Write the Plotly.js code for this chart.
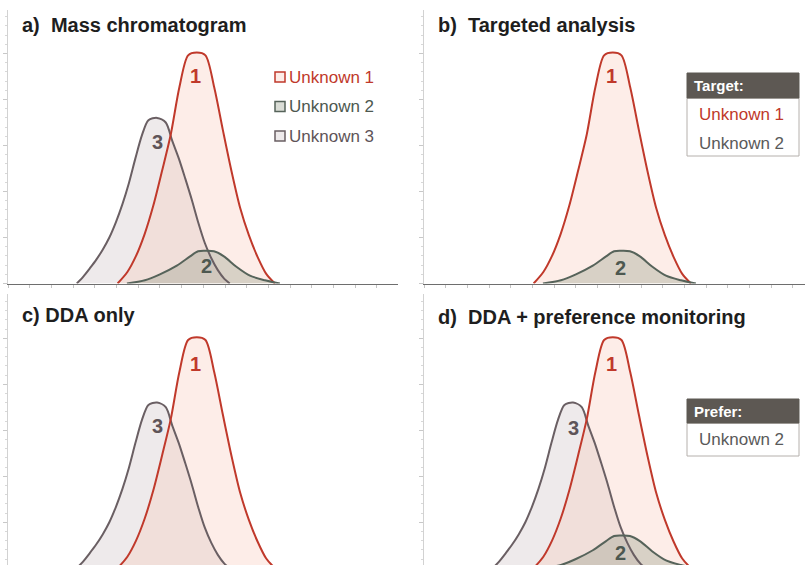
<!DOCTYPE html>
<html>
<head>
<meta charset="utf-8">
<script src="https://cdn.plot.ly/plotly-3.0.1.min.js"></script>
<style>html,body{margin:0;padding:0;background:#fff;}#chart{width:805px;height:565px;}</style>
</head>
<body>
<div id="chart"></div>
<script>
// ---- data (retention time in tick units, intensity in major y-tick units) ----
const seriesNames = ["Unknown 1", "Unknown 2", "Unknown 3"];
const peakLabels = ["1", "2", "3"];
const peak1X = [5.05, 5.5, 5.9, 6.3, 6.7, 7.1, 7.5, 7.9, 8.3, 8.7, 9.1, 9.5, 9.9, 10.3, 10.7, 11.1, 11.5, 11.9, 12.3];
const peak1Y = [0, 0.25, 0.60, 1.08, 1.70, 2.45, 3.24, 4.27, 4.96, 5.02, 4.96, 4.27, 3.34, 2.44, 1.64, 1.05, 0.58, 0.21, 0];
const peak2X = [5.48, 6.31, 7.00, 7.78, 8.39, 8.76, 9.12, 9.49, 9.95, 10.51, 11.15, 11.84, 12.53];
const peak2Y = [0, 0.07, 0.20, 0.39, 0.59, 0.70, 0.71, 0.70, 0.59, 0.37, 0.17, 0.07, 0];
const peak3X = [3.17, 3.47, 3.77, 4.07, 4.37, 4.67, 4.97, 5.27, 5.57, 5.87, 6.17, 6.47, 6.87, 7.27, 7.57, 7.87, 8.17, 8.47, 8.77, 9.07, 9.37, 9.67, 9.97, 10.22];
const peak3Y = [0, 0.15, 0.33, 0.52, 0.74, 1.00, 1.33, 1.72, 2.18, 2.72, 3.22, 3.55, 3.60, 3.50, 3.10, 2.72, 2.28, 1.82, 1.32, 0.88, 0.55, 0.29, 0.10, 0];
const panelTitles = ["a)\u00a0 Mass chromatogram", "b)\u00a0 Targeted analysis", "c) DDA only", "d)\u00a0 DDA + preference monitoring"];
const panelPeaks = [[3, 1, 2], [1, 2], [3, 1], [3, 1, 2]];
const boxHeaders = ["Target:", "Prefer:"];
const boxItemsB = ["Unknown 1", "Unknown 2"];
const boxItemsD = ["Unknown 2"];

// ---- styles ----
const W = 805, H = 565;
const px = v => v / W;
const py = v => 1 - v / H;
const lineCol = {1: "#c0392b", 2: "#56635a", 3: "#6a5f63"};
const fillCol = {1: "rgba(250,200,185,0.32)", 2: "rgba(140,150,128,0.32)", 3: "rgba(200,184,190,0.30)"};
const labelCol = {1: "#c0392b", 2: "#4d5850", 3: "#5e5458"};
const peaks = {1: [peak1X, peak1Y], 2: [peak2X, peak2Y], 3: [peak3X, peak3Y]};
const FONT = "Liberation Sans, Arial, Helvetica, sans-serif";

const traces = [];
panelPeaks.forEach((list, i) => {
  const sfx = i === 0 ? "" : String(i + 1);
  // fills first
  list.forEach(p => {
    traces.push({
      x: peaks[p][0], y: peaks[p][1], type: "scatter", mode: "lines",
      line: {color: "rgba(0,0,0,0)", width: 0, shape: "spline", smoothing: 0.8},
      fill: "tozeroy", fillcolor: fillCol[p],
      xaxis: "x" + sfx, yaxis: "y" + sfx, showlegend: false, hoverinfo: "skip"
    });
  });
  // outlines on top
  list.forEach(p => {
    traces.push({
      x: peaks[p][0], y: peaks[p][1], type: "scatter", mode: "lines",
      line: {color: lineCol[p], width: 2, shape: "spline", smoothing: 0.8},
      xaxis: "x" + sfx, yaxis: "y" + sfx, showlegend: false, hoverinfo: "skip"
    });
  });
});

const topDom = [(H - 283.5) / H, (H - 10) / H];
const botDom = [0, (H - 294) / H];
const botBase = 568.2;
function xAx(dom, rng, showLine, anchor) {
  return {domain: dom, range: rng, anchor: anchor, showline: showLine, linecolor: "#6e6e6e", linewidth: 1.5,
    ticks: showLine ? "outside" : "", ticklen: 3, tickcolor: "#c4c4c4", tick0: 0, dtick: 1,
    showticklabels: false, showgrid: false, zeroline: false, fixedrange: true};
}
function yAx(dom, rng, anchor) {
  return {domain: dom, range: rng, anchor: anchor, showline: true, linecolor: "#d2d2d2", linewidth: 1,
    ticks: "outside", ticklen: 4, tickcolor: "#c8c8c8", tick0: 0, dtick: 1,
    minor: {dtick: 0.2, ticklen: 2, tickcolor: "#d8d8d8", ticks: "outside"},
    showticklabels: false, showgrid: false, zeroline: false, fixedrange: true};
}
const xDomL = [px(8), px(398)], xDomR = [px(424), 1];
const rngL = [0, (398 - 8) / 21.7], rngR = [0, (805 - 424) / 21.7];
const topR = [0, (283.5 - 10) / 46];
const botR = [(botBase - H) / 46, (botBase - 294) / 46];

const annotations = [];
const shapes = [];
// panel titles
const titlePos = [[20, 25], [436, 25], [20, 315], [436, 317]];
panelTitles.forEach((t, i) => {
  annotations.push({text: t, xref: "paper", yref: "paper", x: px(titlePos[i][0]), y: py(titlePos[i][1]),
    xanchor: "left", yanchor: "middle", showarrow: false,
    font: {family: FONT, size: 20, color: "#1e1e1e", weight: "bold"}});
});
// peak number labels
const labelPos = [
  {1: [8.62, 4.52], 2: [9.17, 0.37], 3: [6.87, 3.07]},
  {1: [8.66, 4.52], 2: [9.05, 0.33]},
  {1: [8.62, 4.45], 3: [6.87, 3.10]},
  {1: [8.66, 4.45], 2: [9.05, 0.33], 3: [6.87, 3.05]}
];
labelPos.forEach((obj, i) => {
  const sfx = i === 0 ? "" : String(i + 1);
  Object.keys(obj).forEach(k => {
    annotations.push({text: peakLabels[k - 1], xref: "x" + sfx, yref: "y" + sfx, x: obj[k][0], y: obj[k][1],
      showarrow: false, xanchor: "center", yanchor: "middle",
      font: {family: FONT, size: 20, color: labelCol[k], weight: "bold"}});
  });
});
// legend of panel a
[1, 2, 3].forEach((k, j) => {
  const yc = 77 + j * 29.5;
  shapes.push({type: "rect", xref: "paper", yref: "paper", x0: px(275), x1: px(285), y0: py(yc - 5), y1: py(yc + 5),
    line: {color: lineCol[k], width: 1.5}, fillcolor: fillCol[k]});
  annotations.push({text: seriesNames[k - 1], xref: "paper", yref: "paper", x: px(287), y: py(yc),
    xanchor: "left", yanchor: "middle", showarrow: false,
    font: {family: FONT, size: 17, color: labelCol[k]}});
});
// boxes
function box(top, headH, bodyB, header, items, colors) {
  shapes.push({type: "rect", xref: "paper", yref: "paper", x0: px(687), x1: px(799), y0: py(top + headH), y1: py(bodyB),
    line: {color: "#b5b0ac", width: 1}, fillcolor: "#ffffff"});
  shapes.push({type: "rect", xref: "paper", yref: "paper", x0: px(687), x1: px(799), y0: py(top), y1: py(top + headH),
    line: {color: "#5d5853", width: 1}, fillcolor: "#5d5853"});
  annotations.push({text: header, xref: "paper", yref: "paper", x: px(692), y: py(top + headH / 2),
    xanchor: "left", yanchor: "middle", showarrow: false,
    font: {family: FONT, size: 15, color: "#ffffff", weight: "bold"}});
  items.forEach((t, j) => {
    annotations.push({text: t, xref: "paper", yref: "paper", x: px(697), y: py(top + headH + 16 + j * 29),
      xanchor: "left", yanchor: "middle", showarrow: false,
      font: {family: FONT, size: 17, color: colors[j]}});
  });
}
box(73, 25, 156, boxHeaders[0], boxItemsB, [lineCol[1], "#5a5a5a"]);
box(399, 24, 456, boxHeaders[1], boxItemsD, ["#5a5a5a"]);

const layout = {
  width: W, height: H, margin: {l: 0, r: 0, t: 0, b: 0},
  paper_bgcolor: "#ffffff", plot_bgcolor: "rgba(0,0,0,0)", showlegend: false,
  xaxis: xAx(xDomL, rngL, true, "y"), yaxis: yAx(topDom, topR, "x"),
  xaxis2: xAx(xDomR, rngR, true, "y2"), yaxis2: yAx(topDom, topR, "x2"),
  xaxis3: xAx(xDomL, rngL, false, "y3"), yaxis3: yAx(botDom, botR, "x3"),
  xaxis4: xAx(xDomR, rngR, false, "y4"), yaxis4: yAx(botDom, botR, "x4"),
  annotations: annotations, shapes: shapes
};
Plotly.newPlot("chart", traces, layout, {staticPlot: true, displayModeBar: false});
</script>
</body>
</html>
